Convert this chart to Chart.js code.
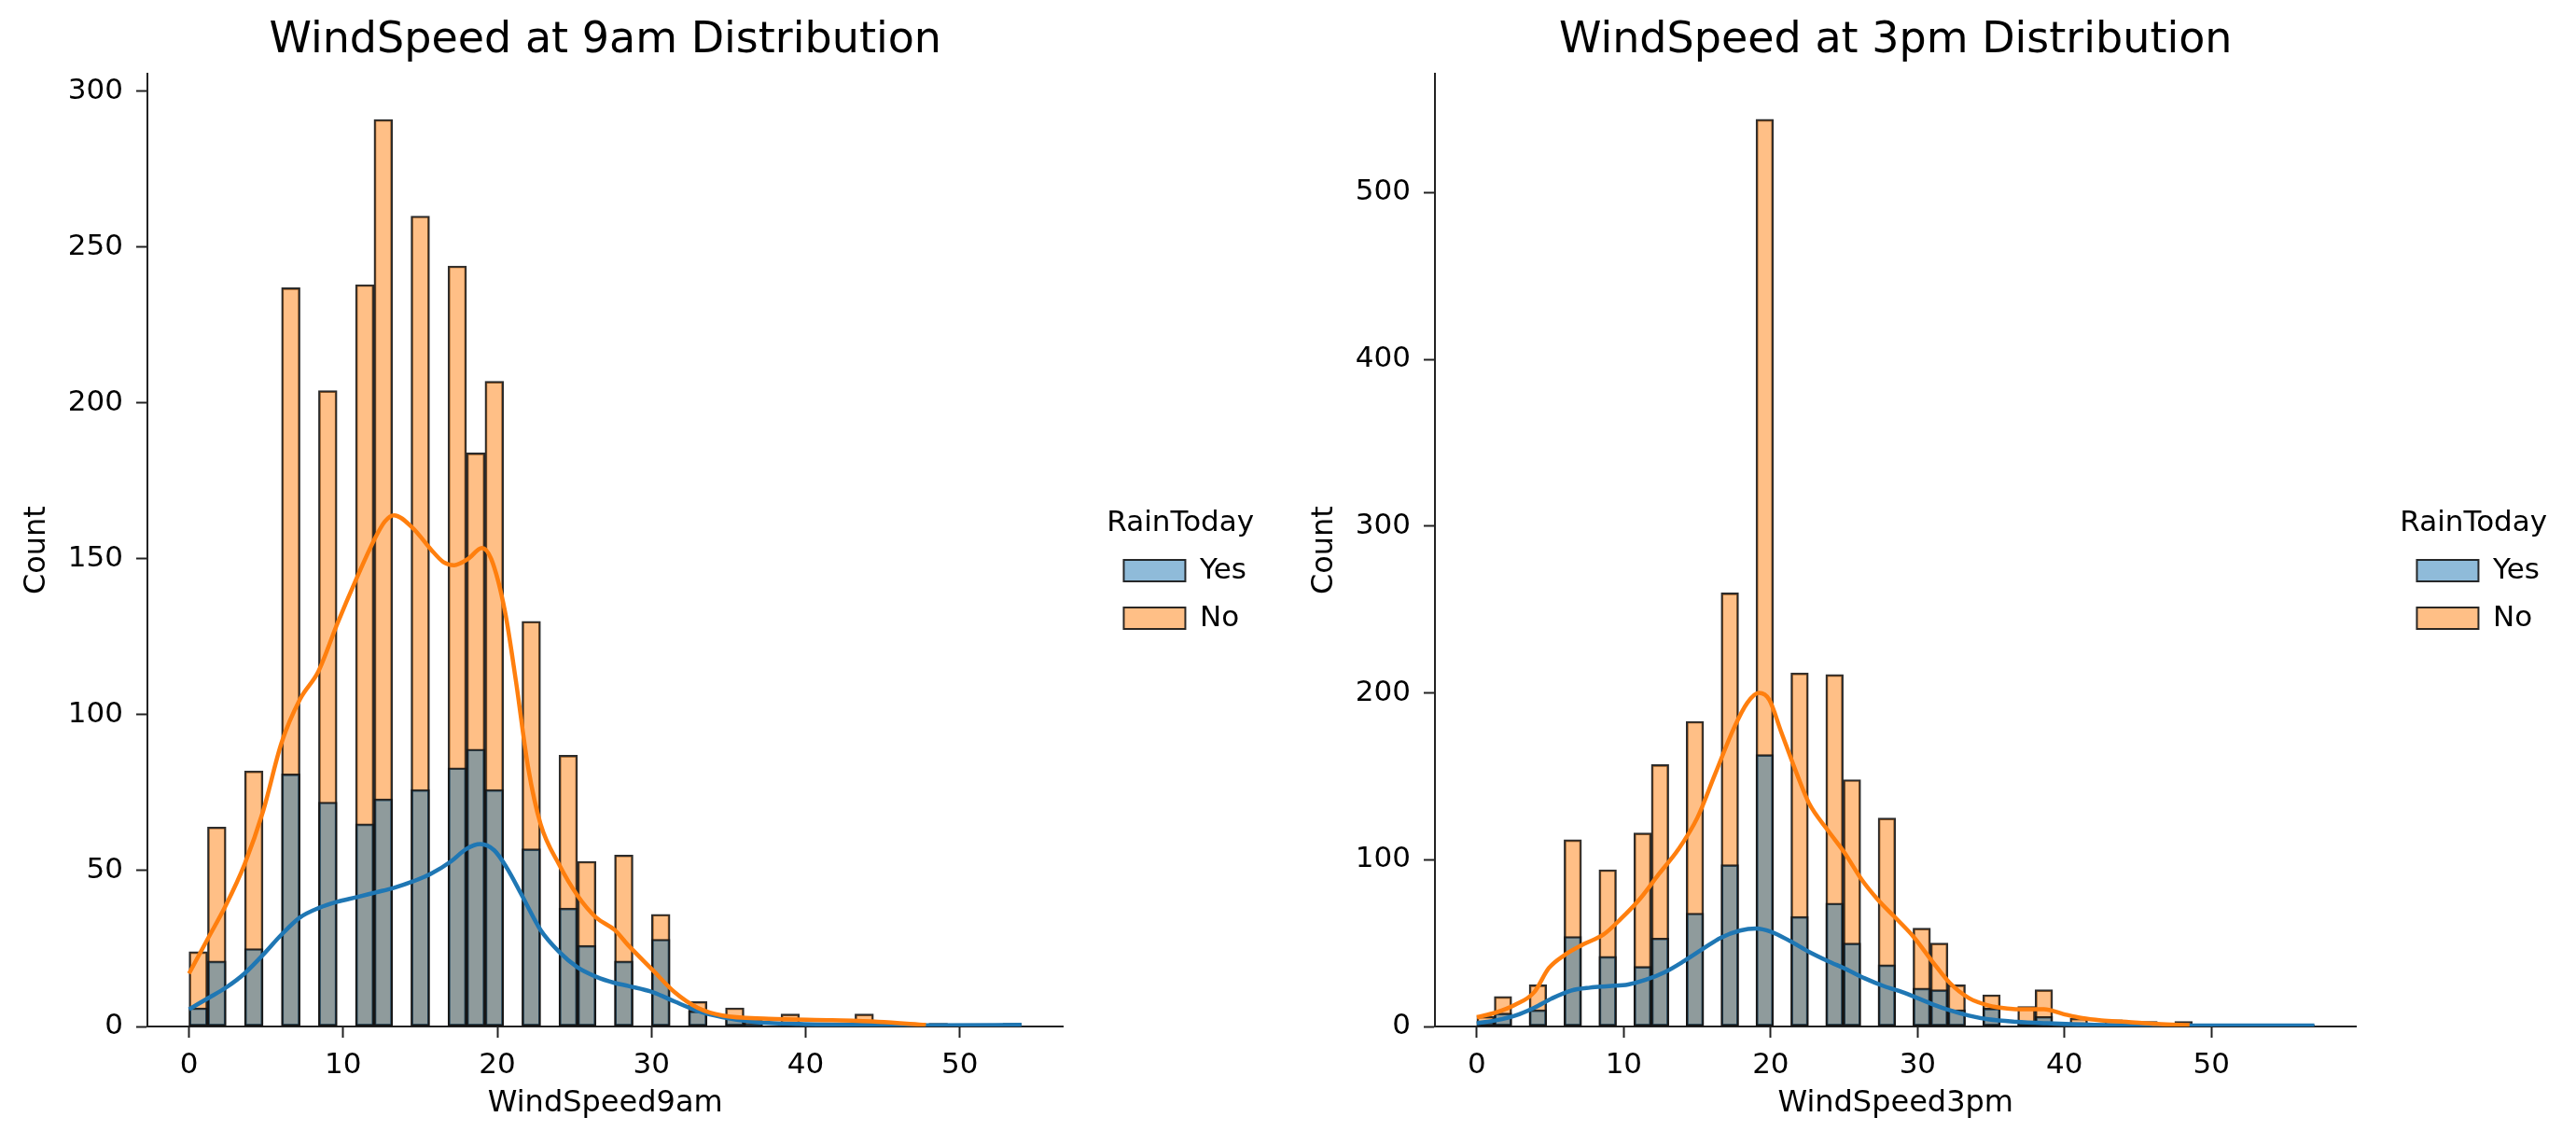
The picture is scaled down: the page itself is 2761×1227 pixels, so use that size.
<!DOCTYPE html>
<html>
<head>
<meta charset="utf-8">
<script src="https://cdn.jsdelivr.net/npm/chart.js@4.4.1/dist/chart.umd.min.js"></script>
<style>
  html, body { margin: 0; padding: 0; background: #fff; }
  .panel { position: absolute; top: 0; height: 1227px; }
  #left { left: 0; width: 1380px; }
  #right { left: 1380px; width: 1381px; }
</style>
</head>
<body>
<div class="panel" id="left"><canvas id="chart9am"></canvas></div>
<div class="panel" id="right"><canvas id="chart3pm"></canvas></div>
<script>
// histogram bins: bin width and count per bin, split by RainToday
const binWidth9am = 1.2;
const yes9am = [6, 21, 0, 25, 0, 81, 0, 72, 0, 65, 73, 0, 76, 0, 83, 89, 76, 0, 57, 0, 38, 26, 0, 21, 0, 28, 0, 5, 0, 3, 1, 0, 1, 0, 0, 0, 1, 0, 0, 0, 0, 0, 0, 0, 1];
const no9am = [24, 64, 0, 82, 0, 237, 0, 204, 0, 238, 291, 0, 260, 0, 244, 184, 207, 0, 130, 0, 87, 53, 0, 55, 0, 36, 0, 8, 0, 6, 2, 0, 4, 0, 1, 1, 4, 0, 1, 0, 1, 0, 0, 0, 0];

const binWidth3pm = 1.1875;
const yes3pm = [3, 8, 0, 10, 0, 54, 0, 42, 0, 36, 53, 0, 68, 0, 97, 0, 163, 0, 66, 0, 74, 50, 0, 37, 0, 23, 22, 10, 0, 11, 0, 3, 6, 0, 1, 0, 1, 0, 0, 0, 1, 0, 0, 0, 0, 1, 0, 1];
const no3pm = [6, 18, 0, 25, 0, 112, 0, 94, 0, 116, 157, 0, 183, 0, 260, 0, 544, 0, 212, 0, 211, 148, 0, 125, 0, 59, 50, 25, 0, 19, 0, 12, 22, 0, 5, 0, 4, 2, 3, 0, 3, 0, 1, 0, 0, 0, 0, 0];

// kde curves
const kde9amYesX = [0, 1.2, 2.4, 3.6, 4.8, 6.0, 7.2, 8.4, 9.6, 10.9, 12.1, 13.3, 14.5, 15.7, 17.0, 18.0, 18.9, 19.8, 20.6, 21.6, 22.8, 24.0, 25.2, 26.4, 27.6, 28.5, 30.1, 31.5, 33.0, 34.6, 36.6, 39.6, 43.7, 47.8, 54.0];
const kde9amYesY = [5.5, 9, 12.5, 17, 23, 29.5, 35, 38, 40, 41.5, 43, 44.5, 46.5, 49, 53, 57, 58.5, 56.5, 51, 42, 31, 24, 19, 16, 14, 13, 11, 8, 5, 3, 1.5, 0.8, 0.5, 0.4, 0.5];
const kde9amNoX = [0, 1.2, 2.4, 3.6, 4.8, 6.0, 7.2, 8.4, 9.6, 10.8, 12.0, 12.7, 13.3, 14.5, 15.7, 16.5, 17.2, 18.1, 19.0, 19.6, 20.5, 21.2, 22.0, 22.8, 24.0, 25.2, 26.4, 27.6, 28.5, 30.1, 31.5, 33.0, 34.6, 37.6, 41.7, 44.7, 47.8];
const kde9amNoY = [17, 28, 39, 52, 69, 91, 105, 114, 129, 143, 156, 162, 164, 160, 153, 149, 148, 150, 153.5, 150, 133, 111, 83, 65, 52, 42, 35, 31, 26, 18, 11, 6, 3.5, 2.5, 2, 1.5, 0.5];

const kde3pmYesX = [0, 1.3, 2.6, 3.9, 5.1, 6.4, 7.7, 9.0, 10.3, 11.5, 12.8, 14.1, 15.4, 16.6, 17.9, 19.0, 20.0, 21.3, 22.6, 23.9, 25.1, 26.4, 27.7, 29.0, 30.0, 31.0, 32.2, 33.5, 34.8, 36.7, 38.8, 42.0, 46.3, 57.0];
const kde3pmYesY = [1.9, 3.7, 6.5, 11.2, 16.8, 21.5, 23.3, 24.2, 25.2, 28, 32.6, 39.2, 46.6, 53.2, 57.5, 58.8, 56.9, 51.3, 44.8, 39.2, 34.5, 28.9, 24.2, 20.5, 17, 13.4, 9.7, 6.5, 4.3, 2.8, 1.9, 1, 0.6, 0.6];
const kde3pmNoX = [0, 1.3, 2.6, 3.9, 4.9, 6.0, 7.3, 8.6, 9.8, 11.1, 12.4, 13.7, 15.0, 16.2, 17.5, 18.4, 19.2, 19.9, 20.7, 21.8, 22.6, 23.9, 25.0, 26.2, 27.3, 28.4, 29.7, 31.0, 32.2, 33.5, 34.8, 36.1, 37.3, 38.6, 39.9, 41.2, 42.5, 44.2, 46.3, 48.5];
const kde3pmNoY = [5.6, 8.4, 13, 20.5, 35, 43, 49.5, 55, 64.5, 76.5, 91.5, 106, 125, 151, 179, 194, 200, 196, 177, 151, 134, 117.5, 104.5, 88, 76, 66, 54, 39, 26, 17, 12.7, 10.8, 10.3, 10.3, 7.5, 5, 3.7, 2.8, 1.5, 0.8];

// ticks
const xTicks = [0, 10, 20, 30, 40, 50];
const yTicks9am = [0, 50, 100, 150, 200, 250, 300];
const yTicks3pm = [0, 100, 200, 300, 400, 500];

const BLUE = '#1f77b4';
const ORANGE = '#ff7f0e';
const AXIS = '#222';

Chart.defaults.font.family = "'DejaVu Sans', sans-serif";
Chart.defaults.color = '#000';

const toPoints = (xs, ys) => xs.map((x, i) => ({ x, y: ys[i] }));
const binPoints = (width, counts) => counts.map((c, i) => ({ x: (i + 0.5) * width, y: c }));

const histogram = (canvasId, cfg) => {
  const barStyle = {
    borderColor: 'rgba(20,20,20,0.9)',
    borderWidth: 2,
    borderSkipped: false,
    grouped: false,
    barPercentage: 1,
    categoryPercentage: 1,
    xAxisID: 'x',
    yAxisID: 'y'
  };
  const lineStyle = {
    type: 'line',
    borderWidth: 4.5,
    pointRadius: 0,
    cubicInterpolationMode: 'monotone',
    fill: false,
    xAxisID: 'x',
    yAxisID: 'y'
  };

  const data = {
    datasets: [
      { ...barStyle, label: 'Yes', data: binPoints(cfg.binWidth, cfg.yes), backgroundColor: 'rgba(31,119,180,0.5)', order: 2 },
      { ...barStyle, label: 'No', data: binPoints(cfg.binWidth, cfg.no), backgroundColor: 'rgba(255,127,14,0.5)', order: 3 },
      { ...lineStyle, label: 'Yes kde', data: toPoints(cfg.kdeYesX, cfg.kdeYesY), borderColor: BLUE, order: 1 },
      { ...lineStyle, label: 'No kde', data: toPoints(cfg.kdeNoX, cfg.kdeNoY), borderColor: ORANGE, order: 0 }
    ]
  };

  const axisGrid = { display: true, drawOnChartArea: false, tickLength: 12, tickWidth: 2, color: AXIS };

  const options = {
    responsive: true,
    maintainAspectRatio: false,
    animation: false,
    layout: { padding: { left: 17, right: cfg.padRight, top: 16, bottom: 0 } },
    plugins: {
      title: {
        display: true,
        text: cfg.title,
        fullSize: false,
        color: '#000',
        font: { size: 46, weight: 'normal' },
        padding: { top: 0, bottom: 8 }
      },
      legend: {
        position: 'right',
        align: 'center',
        title: { display: true, text: 'RainToday', color: '#000', font: { size: 31, lineHeight: 1 }, padding: 0 },
        labels: {
          boxWidth: 66,
          boxHeight: 23,
          padding: 20,
          color: '#000',
          font: { size: 31 },
          filter: item => item.datasetIndex < 2,
          sort: (a, b) => a.datasetIndex - b.datasetIndex
        }
      },
      tooltip: { enabled: false }
    },
    scales: {
      x: {
        type: 'linear',
        min: cfg.xMin,
        max: cfg.xMax,
        offset: false,
        afterBuildTicks: s => { s.ticks = xTicks.map(v => ({ value: v })); },
        afterFit: s => { s.height = 127; },
        grid: { ...axisGrid, offset: false },
        border: { color: AXIS, width: 2 },
        ticks: { color: '#000', font: { size: 31 }, padding: 11 },
        title: { display: true, text: cfg.xLabel, color: '#000', font: { size: 32 }, padding: { top: 0, bottom: 25 } }
      },
      y: {
        type: 'linear',
        min: 0,
        max: cfg.yMax,
        afterBuildTicks: s => { s.ticks = cfg.yTicks.map(v => ({ value: v })); },
        afterFit: s => { s.width = 141; },
        grid: axisGrid,
        border: { color: AXIS, width: 2 },
        ticks: { color: '#000', font: { size: 31 }, padding: 14 },
        title: { display: true, text: 'Count', color: '#000', font: { size: 32 }, padding: { top: 3, bottom: 0 } }
      },
      // empty space between the axes and the legend
      gap: {
        type: 'linear',
        position: 'right',
        display: true,
        grid: { display: false },
        border: { display: false },
        ticks: { display: false },
        afterFit: s => { s.width = 45; }
      }
    }
  };

  return new Chart(document.getElementById(canvasId), { type: 'bar', data, options });
};

histogram('chart9am', {
  title: 'WindSpeed at 9am Distribution',
  xLabel: 'WindSpeed9am',
  binWidth: binWidth9am,
  yes: yes9am,
  no: no9am,
  kdeYesX: kde9amYesX, kdeYesY: kde9amYesY,
  kdeNoX: kde9amNoX, kdeNoY: kde9amNoY,
  xMin: -2.7, xMax: 56.7,
  yMax: 305.6,
  yTicks: yTicks9am,
  padRight: 34
});

histogram('chart3pm', {
  title: 'WindSpeed at 3pm Distribution',
  xLabel: 'WindSpeed3pm',
  binWidth: binWidth3pm,
  yes: yes3pm,
  no: no3pm,
  kdeYesX: kde3pmYesX, kdeYesY: kde3pmYesY,
  kdeNoX: kde3pmNoX, kdeNoY: kde3pmNoY,
  xMin: -2.85, xMax: 59.85,
  yMax: 571.2,
  yTicks: yTicks3pm,
  padRight: 29
});
</script>
</body>
</html>
